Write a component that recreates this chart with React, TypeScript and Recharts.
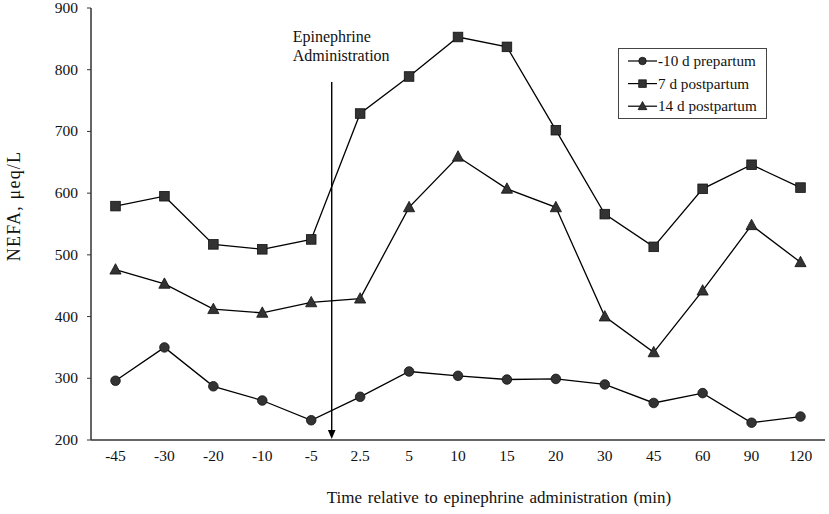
import React from 'react';
import { LineChart, Line, XAxis, YAxis, ReferenceLine, Legend } from 'recharts';

const categories = ['-45', '-30', '-20', '-10', '-5', '2.5', '5', '10', '15', '20', '30', '45', '60', '90', '120'];
const prepartum10 = [296, 350, 287, 264, 232, 270, 311, 304, 298, 299, 290, 260, 276, 228, 238];
const postpartum7 = [579, 595, 517, 509, 525, 729, 789, 853, 837, 702, 566, 513, 607, 646, 609];
const postpartum14 = [476, 453, 412, 406, 423, 429, 577, 659, 607, 577, 400, 342, 442, 548, 488];
const yTicks = [200, 300, 400, 500, 600, 700, 800, 900];
const seriesNames = ['-10 d prepartum', '7 d postpartum', '14 d postpartum'];
const arrowAfter = '-5'; // arrow sits just after this time point
const arrowTop = 780;

const data = categories.map((t, i) => ({
  t,
  pre: prepartum10[i],
  p7: postpartum7[i],
  p14: postpartum14[i],
}));

const FONT = 'Liberation Serif, Times New Roman, serif';
const TS = { fontFamily: FONT };
const MARK = '#333333';

const Circle = ({ cx, cy, s = 1 }: any) => (
  <circle cx={cx} cy={cy} r={4.8 * s} fill={MARK} stroke="#111" strokeWidth={0.8} />
);
const Square = ({ cx, cy, s = 1 }: any) => (
  <rect x={cx - 4.8 * s} y={cy - 4.8 * s} width={9.6 * s} height={9.6 * s} fill={MARK} stroke="#111" strokeWidth={0.8} />
);
const Triangle = ({ cx, cy, s = 1 }: any) => (
  <polygon
    points={`${cx},${cy - 6 * s} ${cx - 5.6 * s},${cy + 4.4 * s} ${cx + 5.6 * s},${cy + 4.4 * s}`}
    fill={MARK}
    stroke="#111"
    strokeWidth={0.8}
  />
);
const markers = [Circle, Square, Triangle];

const dotFn = (Comp: any) => (props: any) => {
  const { cx, cy, index } = props;
  if (cx == null || cy == null) return <g key={`d-${index}`} />;
  return <Comp key={`d-${index}`} cx={cx} cy={cy} />;
};

const XTick = (props: any) => {
  const { x, y, payload } = props;
  return (
    <text x={x} y={y + 19} textAnchor="middle" style={TS} fontSize={15.5} fill="#111">
      {payload.value}
    </text>
  );
};

const YTick = (props: any) => {
  const { x, y, payload } = props;
  return (
    <text x={x} y={y + 5} textAnchor="end" style={TS} fontSize={15.5} fill="#111">
      {payload.value}
    </text>
  );
};

const ArrowShape = (props: any) => {
  const { x1, y1, y2 } = props;
  const top = Math.min(y1, y2);
  const bottom = Math.max(y1, y2) - 1;
  const x = x1 + 20.5;
  return (
    <g>
      <line x1={x} y1={top} x2={x} y2={bottom - 6} stroke="#000" strokeWidth={1.4} />
      <polygon points={`${x - 3.8},${bottom - 9} ${x + 3.8},${bottom - 9} ${x},${bottom}`} fill="#000" />
      <text x={x - 39} y={top - 40} style={TS} fontSize={16} fill="#111">
        Epinephrine
      </text>
      <text x={x - 39} y={top - 21} style={TS} fontSize={16} fill="#111">
        Administration
      </text>
    </g>
  );
};

const LegendBox = () => (
  <svg width={149} height={71} style={{ display: 'block' }}>
    <rect x={0.5} y={0.5} width={148} height={70} fill="#fff" stroke="#444" strokeWidth={1} />
    {seriesNames.map((name, i) => {
      const y = 13 + i * 22.6;
      const M = markers[i];
      return (
        <g key={name}>
          <line x1={10} y1={y} x2={39} y2={y} stroke="#000" strokeWidth={1.2} />
          <M cx={24.5} cy={y} s={0.78} />
          <text x={40} y={y + 5} style={TS} fontSize={15.2} fill="#111">
            {name}
          </text>
        </g>
      );
    })}
  </svg>
);

const YTitle = (props: any) => {
  const vb = props.viewBox || { x: 0, y: 8, width: 91, height: 432 };
  const cx = 14;
  const cy = vb.y + vb.height / 2 - 18;
  return (
    <text
      transform={`translate(${cx},${cy}) rotate(-90)`}
      textAnchor="middle"
      dominantBaseline="central"
      style={TS}
      fontSize={18}
      letterSpacing={1.2}
      fill="#111"
    >
      NEFA, μeq/L
    </text>
  );
};

const XTitle = (props: any) => {
  const vb = props.viewBox || { x: 91, y: 440, width: 734, height: 74 };
  return (
    <text
      x={vb.x + vb.width / 2 + 41}
      y={vb.y + 63}
      textAnchor="middle"
      style={TS}
      fontSize={17}
      wordSpacing={1.5}
      fill="#111"
    >
      Time relative to epinephrine administration (min)
    </text>
  );
};

export default function App() {
  return (
    <div style={{ position: 'absolute', left: 0, top: 0, width: 829, height: 514, background: '#fff', fontFamily: FONT }}>
      <LineChart width={829} height={514} data={data} margin={{ top: 8, right: 4, left: 0, bottom: 0 }}>
        <XAxis
          dataKey="t"
          height={74}
          padding={{ left: 24.5, right: 24.5 }}
          tickLine={false}
          tickSize={0}
          tickMargin={2}
          axisLine={{ stroke: '#333', strokeWidth: 1.5 }}
          tick={<XTick />}
          interval={0}
          label={<XTitle />}
        />
        <XAxis
          xAxisId="top"
          orientation="top"
          dataKey="t"
          height={0}
          tick={false}
          tickLine={false}
          axisLine={{ stroke: '#666', strokeWidth: 1.2 }}
        />
        <YAxis
          width={91}
          domain={[200, 900]}
          ticks={yTicks}
          interval={0}
          tickSize={4}
          tickMargin={9}
          axisLine={{ stroke: '#333', strokeWidth: 1.5 }}
          tickLine={{ stroke: '#333' }}
          tick={<YTick />}
          label={<YTitle />}
        />
        <YAxis
          yAxisId="right"
          orientation="right"
          width={0}
          domain={[200, 900]}
          tick={false}
          tickLine={false}
          axisLine={{ stroke: '#666', strokeWidth: 1.2 }}
        />
        <ReferenceLine
          segment={[
            { x: arrowAfter, y: arrowTop },
            { x: arrowAfter, y: 200 },
          ]}
          shape={<ArrowShape />}
          ifOverflow="visible"
        />
        <Line dataKey="pre" name={seriesNames[0]} stroke="#000" strokeWidth={1.3} dot={dotFn(Circle)} isAnimationActive={false} />
        <Line dataKey="p7" name={seriesNames[1]} stroke="#000" strokeWidth={1.3} dot={dotFn(Square)} isAnimationActive={false} />
        <Line dataKey="p14" name={seriesNames[2]} stroke="#000" strokeWidth={1.3} dot={dotFn(Triangle)} isAnimationActive={false} />
        <Legend
          layout="vertical"
          align="center"
          verticalAlign="middle"
          content={<LegendBox />}
          wrapperStyle={{ position: 'absolute', left: 618, top: 48, width: 149, height: 71 }}
        />
      </LineChart>
    </div>
  );
}
